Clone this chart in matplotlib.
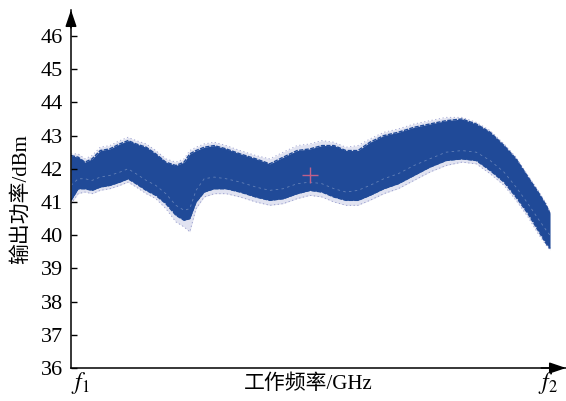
import matplotlib
matplotlib.use("Agg")
import matplotlib.pyplot as plt

# normalized frequency positions (f1 -> 0, f2 -> 1)
freq = [0, 0.015, 0.029, 0.044, 0.061, 0.081, 0.102, 0.119, 0.136, 0.157,
        0.177, 0.198, 0.219, 0.236, 0.248, 0.261, 0.278, 0.299, 0.324, 0.353,
        0.386, 0.415, 0.443, 0.472, 0.499, 0.524, 0.549, 0.574, 0.599, 0.624,
        0.653, 0.683, 0.716, 0.749, 0.783, 0.816, 0.846, 0.875, 0.904, 0.929,
        0.954, 0.975, 0.992, 1.0]

# dense band, upper and lower envelope of the Monte Carlo curves (dBm)
band_upper = [42.4, 42.35, 42.2, 42.3, 42.55, 42.6, 42.75, 42.85, 42.75, 42.65,
              42.45, 42.2, 42.1, 42.2, 42.45, 42.55, 42.65, 42.7, 42.6, 42.45,
              42.3, 42.15, 42.35, 42.55, 42.6, 42.7, 42.7, 42.55, 42.55, 42.8,
              43.0, 43.1, 43.25, 43.35, 43.45, 43.5, 43.35, 43.1, 42.7, 42.3,
              41.75, 41.3, 40.9, 40.65]
band_lower = [41.05, 41.4, 41.4, 41.35, 41.45, 41.5, 41.6, 41.7, 41.55, 41.35,
              41.2, 40.95, 40.6, 40.45, 40.5, 41.0, 41.3, 41.4, 41.4, 41.3,
              41.15, 41.05, 41.1, 41.25, 41.35, 41.3, 41.15, 41.05, 41.05, 41.2,
              41.4, 41.55, 41.8, 42.05, 42.25, 42.3, 42.25, 41.95, 41.6, 41.15,
              40.65, 40.15, 39.75, 39.6]

# sparse outlier curves outside the dense band
outer_upper = [42.45, 42.45, 42.3, 42.4, 42.65, 42.7, 42.85, 42.95, 42.85, 42.75,
               42.55, 42.3, 42.2, 42.3, 42.55, 42.65, 42.75, 42.8, 42.7, 42.55,
               42.4, 42.3, 42.5, 42.7, 42.75, 42.85, 42.8, 42.65, 42.7, 42.9,
               43.1, 43.2, 43.35, 43.45, 43.55, 43.55, 43.4, 43.15, 42.75, 42.35,
               41.8, 41.35, 40.95, 40.7]
outer_lower = [40.95, 41.25, 41.3, 41.25, 41.35, 41.4, 41.5, 41.6, 41.45, 41.25,
               41.1, 40.8, 40.4, 40.25, 40.1, 40.8, 41.15, 41.25, 41.25, 41.15,
               41.0, 40.9, 40.95, 41.1, 41.2, 41.15, 41.0, 40.9, 40.9, 41.05,
               41.25, 41.4, 41.65, 41.9, 42.1, 42.2, 42.15, 41.85, 41.5, 41.05,
               40.55, 40.05, 39.7, 39.55]

# light gap between individual curves, visible inside the lower band
gap_a = [41.5, 41.7, 41.7, 41.65, 41.75, 41.8, 41.9, 42.0, 41.85, 41.65,
         41.5, 41.25, 40.9, 40.75, 40.8, 41.35, 41.7, 41.75, 41.7, 41.6,
         41.45, 41.35, 41.4, 41.55, 41.6, 41.55, 41.4, 41.3, 41.35, 41.5,
         41.7, 41.85, 42.1, 42.3, 42.5, 42.55, 42.5, 42.25, 41.9, 41.45,
         40.95, 40.5, 40.15, 40.0]

nominal_point = (0.499, 41.8)
y_ticks = [36, 37, 38, 39, 40, 41, 42, 43, 44, 45, 46]

band_color = "#204a98"

plt.rcParams["mathtext.fontset"] = "stix"
serif_cjk = ["Liberation Serif", "Noto Sans CJK SC"]

fig = plt.figure(figsize=(5.66, 4.01), dpi=100)
ax = fig.add_axes([71 / 566, 33 / 401, (566 - 71) / 566, 358 / 401])

ax.fill_between(freq, outer_lower, outer_upper, color="#7a80c0", alpha=0.22, lw=0)
ax.plot(freq, outer_upper, color="#5a62b0", lw=0.6, ls=(0, (1.5, 3)), alpha=0.6)
ax.plot(freq, outer_lower, color="#5a62b0", lw=0.6, ls=(0, (1.5, 3)), alpha=0.6)
ax.fill_between(freq, band_lower, band_upper, color=band_color, lw=0)
ax.plot(freq, band_upper, color=band_color, lw=1.0, ls=(0, (3, 1)))
ax.plot(freq, band_lower, color=band_color, lw=1.0, ls=(0, (3, 1)))
ax.plot(freq, gap_a, color="white", lw=0.6, ls=(0, (3, 4)), alpha=0.3)

ax.plot([nominal_point[0]], [nominal_point[1]], marker="+", ms=11, mew=1.0,
        color="#c0608a")

ytop = 36 + 358 / 33.2
xright = (566 - 71) / 479
ax.set_xlim(0, xright)
ax.set_ylim(36, ytop)

for s in ["top", "right"]:
    ax.spines[s].set_visible(False)
for s in ["left", "bottom"]:
    ax.spines[s].set_linewidth(1.1)

ax.set_yticks(y_ticks)
ax.set_yticklabels([str(t) for t in y_ticks], family="Liberation Serif", fontsize=16)
ax.tick_params(axis="y", direction="in", length=4.5, width=1.0, pad=6)
ax.set_xticks([])

# arrow heads
ax.annotate("", xy=(0, 1), xycoords="axes fraction", xytext=(0, 0.95),
            arrowprops=dict(arrowstyle="-|>,head_length=1.0,head_width=0.34",
                            color="black", lw=1.1, shrinkA=0, shrinkB=0),
            annotation_clip=False)
ax.annotate("", xy=(1, 0), xycoords="axes fraction", xytext=(0.95, 0),
            arrowprops=dict(arrowstyle="-|>,head_length=1.0,head_width=0.34",
                            color="black", lw=1.1, shrinkA=0, shrinkB=0),
            annotation_clip=False)

ax.text(0.0, 35.55, r"$f_{\mathrm{1}}$", fontsize=17, ha="left", va="center")
ax.text(0.996, 35.55, r"$f_{\mathrm{2}}$", fontsize=17, ha="center", va="center")

fig.text(308 / 566, 1 - 384 / 401, "工作频率/GHz", family=serif_cjk, fontsize=15,
         ha="center", va="center")
fig.text(21 / 566, 1 - 199 / 401, "输出功率/dBm", family=serif_cjk, fontsize=15,
         ha="center", va="center", rotation=90)

fig.savefig("out.png", dpi=100)
